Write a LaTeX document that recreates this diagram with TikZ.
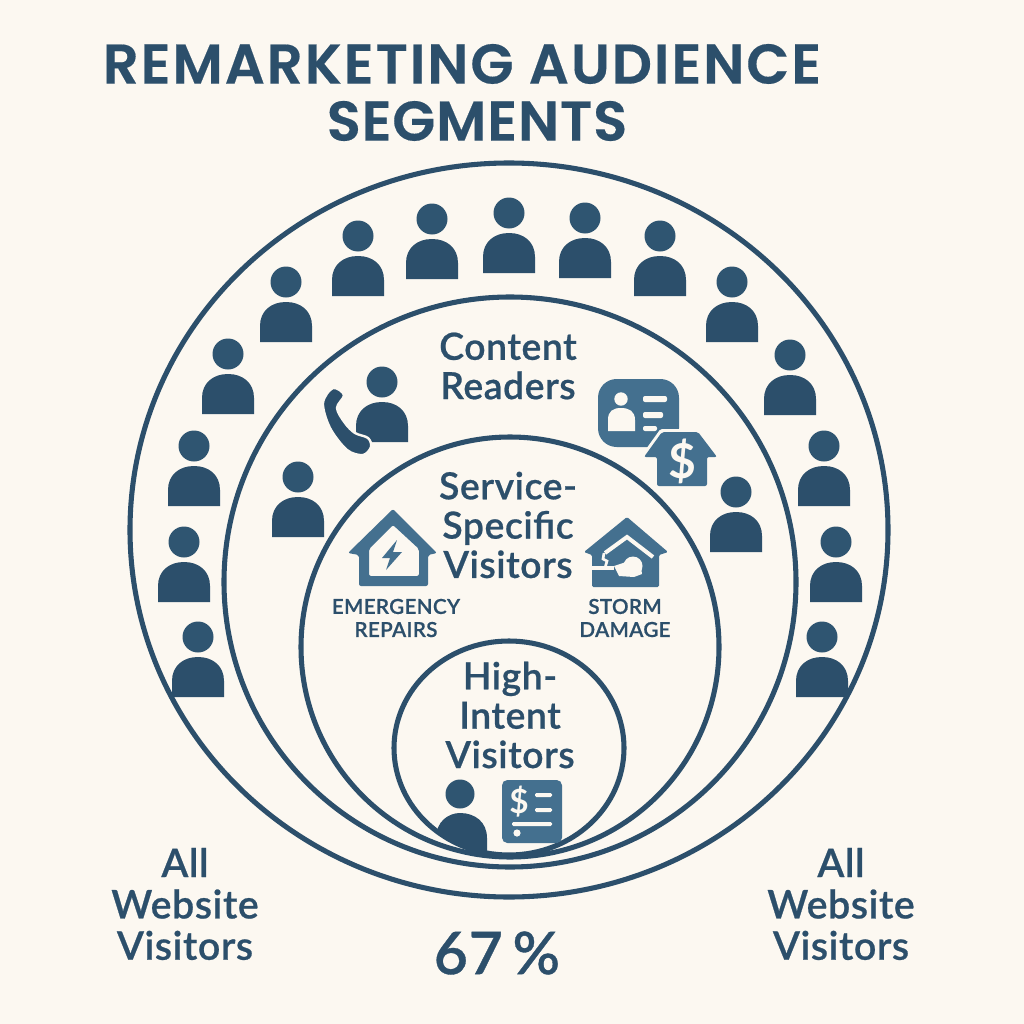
\documentclass[tikz,border=0pt]{standalone}
\usepackage{fontspec}
\setmainfont{Lato}
\newfontfamily\titlefont[LetterSpace=1.5,FakeBold=0.3]{Poppins SemiBold}
\newfontfamily\titlewide[LetterSpace=3.5,FakeBold=0.3]{Poppins SemiBold}
\newfontfamily\lblfont[LetterSpace=1.5,FakeBold=0.6]{Lato Semibold}
\definecolor{paper}{HTML}{FCF8F1}
\definecolor{ink}{HTML}{2C4F6B}
\definecolor{inkb}{HTML}{2F5571}
\definecolor{icon}{HTML}{44708F}
\tikzset{
  ring/.style={draw=ink,line width=3.8pt,fill=none},
  lbl/.style={text=ink,align=center,inner sep=0pt,font=\lblfont\fontsize{28}{29.5}\selectfont},
  lblo/.style={text=ink,align=center,inner sep=0pt,font=\lblfont\fontsize{29.5}{31}\selectfont},
  small/.style={text=ink,align=center,inner sep=0pt,font=\lblfont\fontsize{15.5}{17.3}\selectfont},
  ttl/.style={text=ink,align=center,inner sep=0pt,font=\titlefont\fontsize{42}{42}\selectfont},
  ttlw/.style={text=ink,align=center,inner sep=0pt,font=\titlewide\fontsize{42}{42}\selectfont},
  person/.pic={
    \fill[inkb] (0,0) circle (15.5);
    \fill[ink] (-26,60) -- (-26,44) .. controls (-26,29) and (-15,20) .. (0,20) .. controls (15,20) and (26,29) .. (26,44) -- (26,60) -- cycle;
  },
}
\begin{document}
\begin{tikzpicture}[x=0.75pt,y=-0.75pt]
\useasboundingbox (0,0) rectangle (1024,1024);
\fill[paper] (0,0) rectangle (1024,1024);

% rings
\draw[ring] (509,530) ellipse [x radius=379,y radius=367];
\draw[ring] (510,582) ellipse [x radius=286,y radius=285];
\draw[ring] (510,647) ellipse [x radius=209,y radius=210];
\draw[ring] (509,748) ellipse [x radius=115,y radius=107];

% title
\node[ttlw] (t1) at (462,64) {REMARKETING AUDIENCE};
\node[ttl] (t2) at (477,121) {SEGMENTS};

% people
\foreach \x/\y in {198/637,184/542,194/446,228/354,286/282,358/236,432/219,509/213,585/218,660/236,732/282,790/355,824/446,836/542,822/637,298/477,736/492,382/382}
  \pic at (\x,\y) {person};

% phone
\draw[paper,line width=1.8pt,fill=ink] plot[smooth cycle,tension=0.55] coordinates {(333,388) (344,395) (337,408) (345,423) (355,433) (368,438) (371,447) (363,455) (347,450) (330,428) (323,403)};

% labels
\node[lbl] (cr) at (508,366) {Content\\Readers};
\node[lbl] (sv) at (508,525) {Service-\\Specific\\Visitors};
\node[lbl] (hi) at (510,715) {High-\\Intent\\Visitors};
\node[lblo] (l1) at (185,904) {All\\Website\\Visitors};
\node[lblo] (l2) at (841,904) {All\\Website\\Visitors};
\node[text=ink,inner sep=0pt,font=\lblfont\fontsize{44}{46}\selectfont] (pc) at (497,953) {67\,\%};
\node[small] (er) at (396,618) {EMERGENCY\\REPAIRS};
\node[small] (sd) at (625,618) {STORM\\DAMAGE};

% ID card
\fill[icon,rounded corners=14pt] (598,379) rectangle (679,447);
\fill[paper] (621,399) circle (6.7);
\fill[paper] (608,431) -- (608,420) .. controls (608,411) and (613,408) .. (621,408) .. controls (629,408) and (635,411) .. (635,420) -- (635,431) -- cycle;
\fill[paper,rounded corners=1.5pt] (643,396) rectangle (667,402);
\fill[paper,rounded corners=1.5pt] (643,412) rectangle (663,418);
\fill[paper,rounded corners=1.5pt] (643,426) rectangle (657,431);

% house with dollar
\path[draw=paper,line width=4.5pt,line join=round] (662,432) -- (698,432) -- (717,457) -- (707,457) -- (707,486) -- (657,486) -- (657,457) -- (644,457) -- cycle;
\fill[icon,rounded corners=1.5pt] (662,432) -- (698,432) -- (717,457) -- (707,457) -- (707,486) -- (657,486) -- (657,457) -- (644,457) -- cycle;
\node[text=paper,inner sep=0pt,font=\bfseries\fontsize{36}{36}\selectfont] (hd) at (682,461) {\$};

% bolt house
\fill[icon,even odd rule,rounded corners=1.5pt] (393,509) -- (437,553) -- (428,555) -- (428,586) -- (359,586) -- (359,555) -- (348,553) -- cycle
   (393,525) -- (369,549) -- (369,576) -- (419,576) -- (419,549) -- cycle;
\fill[icon] (397,540) -- (382,558) -- (390,558) -- (386,570) -- (402,552) -- (393,552) -- cycle;

% storm house
\fill[icon,rounded corners=1pt] (627,517) -- (668,552) -- (659,555) -- (659,587) -- (592,587) -- (592,555) -- (584,552) -- cycle;
\draw[paper,line width=3pt,line join=miter] (605,553) -- (627,537) -- (653,557);
\draw[paper,line width=2pt] (604,553) -- (603,559) -- (607,561) -- (605,568);
\fill[paper] (591,566) rectangle (614,570);
\fill[paper] (614,566) -- (626,562) -- (640,560) -- (642,574) -- (634,577) -- (619,576) -- cycle;
\fill[paper] (633,566) circle (9.5);

% dollar list card
\fill[icon,rounded corners=4pt] (502,780) rectangle (562,843);
\node[text=paper,inner sep=0pt,font=\bfseries\fontsize{25}{25}\selectfont] (cd) at (519,802) {\$};
\fill[paper,rounded corners=1pt] (535,793) rectangle (552,797);
\fill[paper,rounded corners=1pt] (535,808) rectangle (552,812);
\fill[paper,rounded corners=1pt] (512,822) rectangle (552,826);
\fill[paper] (517,833) circle (3.6);

% central person, merged with the rings
\begin{scope}
  \clip (509,748) ellipse [x radius=115,y radius=109];
  \fill[ink] (436,860) -- (436,838) .. controls (436,822) and (448,813) .. (460,813) .. controls (475,813) and (487,822) .. (487,838) -- (487,860) -- cycle;
\end{scope}
\fill[inkb] (460,794) circle (14.5);
\end{tikzpicture}
\end{document}
